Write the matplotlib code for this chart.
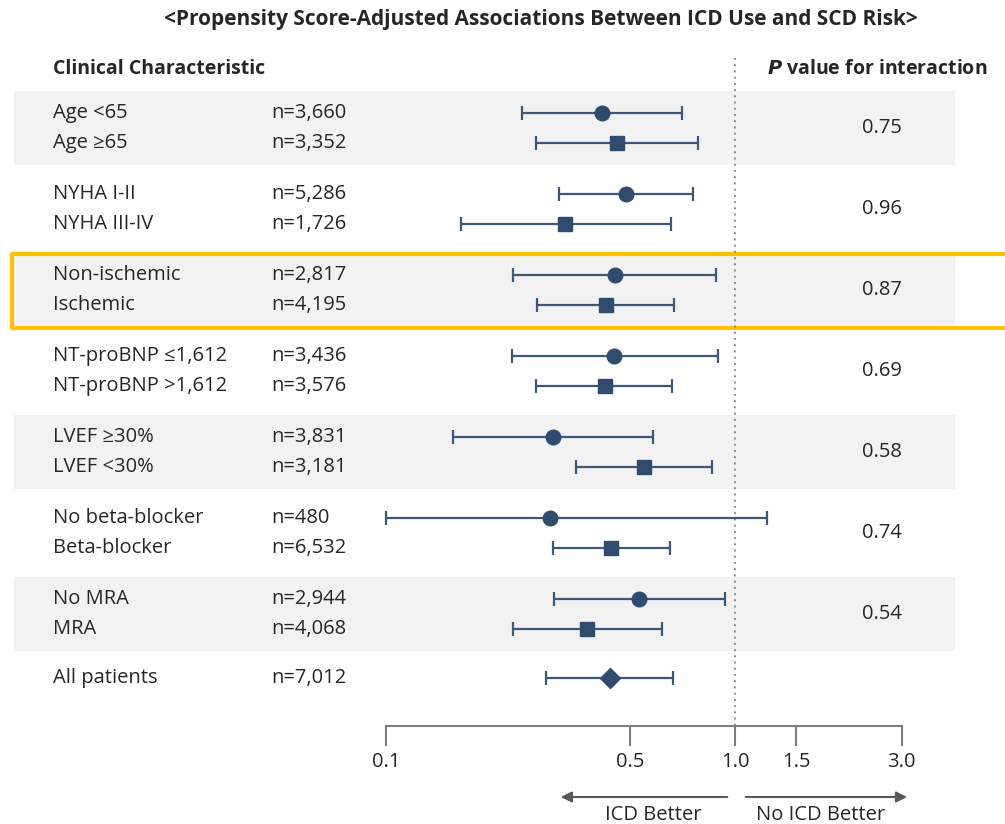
import numpy as np
import matplotlib
matplotlib.use('Agg')
import matplotlib.pyplot as plt

plt.rcParams['font.family'] = ['Open Sans', 'DejaVu Sans']

# data
labels = ['Age <65', 'Age ≥65', 'NYHA I-II', 'NYHA III-IV', 'Non-ischemic', 'Ischemic',
          'NT-proBNP ≤1,612', 'NT-proBNP >1,612', 'LVEF ≥30%', 'LVEF <30%',
          'No beta-blocker', 'Beta-blocker', 'No MRA', 'MRA', 'All patients']
n_text = ['n=3,660', 'n=3,352', 'n=5,286', 'n=1,726', 'n=2,817', 'n=4,195',
          'n=3,436', 'n=3,576', 'n=3,831', 'n=3,181', 'n=480', 'n=6,532',
          'n=2,944', 'n=4,068', 'n=7,012']
hr = np.array([0.416, 0.459, 0.487, 0.326, 0.453, 0.427, 0.450, 0.424,
               0.301, 0.548, 0.295, 0.441, 0.531, 0.377, 0.438])
lo = np.array([0.245, 0.269, 0.313, 0.164, 0.231, 0.271, 0.230, 0.269,
               0.156, 0.350, 0.100, 0.301, 0.303, 0.231, 0.287])
hi = np.array([0.705, 0.783, 0.758, 0.656, 0.882, 0.669, 0.894, 0.660,
               0.582, 0.859, 1.235, 0.651, 0.936, 0.618, 0.664])
p_int = ['0.75', '0.96', '0.87', '0.69', '0.58', '0.74', '0.54']
xticks = [0.1, 0.5, 1.0, 1.5, 3.0]
xticklabels = ['0.1', '0.5', '1.0', '1.5', '3.0']

navy = '#2f4b6e'
txt = '#262626'
grey = '#7f7f7f'
fs = 14.5

fig = plt.figure(figsize=(10.05, 8.24), dpi=100)
ax = fig.add_axes([0, 0, 1, 1])
ax.set_xscale('log')
# 0.1 -> 386 px, 1.0 -> 735 px
ax.set_xlim(10 ** (-735 / 349), 10 ** ((1005 - 735) / 349))
ax.set_ylim(824, 0)
ax.axis('off')
tr = ax.get_yaxis_transform()

# row positions (pixels from top)
grp = np.array([i // 2 for i in range(14)] + [7])
ys = 113 + 81 * grp + np.array([30 * (i % 2) for i in range(14)] + [-2])
centers = 128 + 81 * np.arange(7)

for g in [0, 2, 4, 6]:
    ax.fill_between([14 / 1005, 955 / 1005], centers[g] - 37, centers[g] + 37,
                    transform=tr, color='#f2f2f2', lw=0, zorder=0)

# highlight box around the ischemic group
ax.plot([1.2, 12 / 1005, 12 / 1005, 1.2], [centers[2] - 36, centers[2] - 36, centers[2] + 38, centers[2] + 38],
        transform=tr, color='#ffc000', lw=3, zorder=1, solid_joinstyle='round', clip_on=False)

ax.plot([1, 1], [58, 726], color='#8c8c8c', lw=1.4, ls=(0, (1, 2.2)), zorder=1)

markers = ['o', 's'] * 7 + ['D']
for i in range(15):
    ax.errorbar(hr[i], ys[i], xerr=[[hr[i] - lo[i]], [hi[i] - hr[i]]], fmt='none',
                ecolor='#3c5778', elinewidth=1.6, capsize=4.8, capthick=1.6, zorder=2)
    ax.plot(hr[i], ys[i], marker=markers[i], ms=10.5 if markers[i] != 'D' else 10,
            color=navy, ls='none', zorder=3)
    ax.text(53 / 1005, ys[i], labels[i], transform=tr, ha='left', va='center',
            fontsize=fs, color=txt)
    ax.text(271 / 1005, ys[i], n_text[i], transform=tr, ha='left', va='center',
            fontsize=fs, color=txt)

for g in range(7):
    ax.text(882 / 1005, centers[g], p_int[g], transform=tr, ha='center', va='center',
            fontsize=fs, color=txt)

ax.text(541 / 1005, 19, '<Propensity Score-Adjusted Associations Between ICD Use and SCD Risk>',
        transform=tr, ha='center', va='center', fontsize=15, fontweight='bold', color=txt)
ax.text(53 / 1005, 69, 'Clinical Characteristic', transform=tr, ha='left', va='center',
        fontsize=14, fontweight='bold', color=txt)
ax.text(987 / 1005, 69, r'$\boldsymbol{P}$' + ' value for interaction', transform=tr,
        ha='right', va='center', fontsize=14, fontweight='bold', color=txt)

# bottom axis
ax.plot([xticks[0], xticks[-1]], [726, 726], color=grey, lw=1.5, zorder=1)
for t, lab in zip(xticks, xticklabels):
    ax.plot([t, t], [726, 745], color=grey, lw=1.5)
    ax.text(t, 762, lab, ha='center', va='center', fontsize=fs, color=txt)

ax.annotate('', xy=(0.311, 797), xytext=(0.968, 797),
            arrowprops=dict(arrowstyle='-|>', color='#595959', lw=1.5, mutation_scale=16))
ax.annotate('', xy=(3.17, 797), xytext=(1.054, 797),
            arrowprops=dict(arrowstyle='-|>', color='#595959', lw=1.5, mutation_scale=16))
ax.text(0.582, 815, 'ICD Better', ha='center', va='center', fontsize=fs, color=txt)
ax.text(1.763, 815, 'No ICD Better', ha='center', va='center', fontsize=fs, color=txt)

fig.savefig('out.png', dpi=100)
